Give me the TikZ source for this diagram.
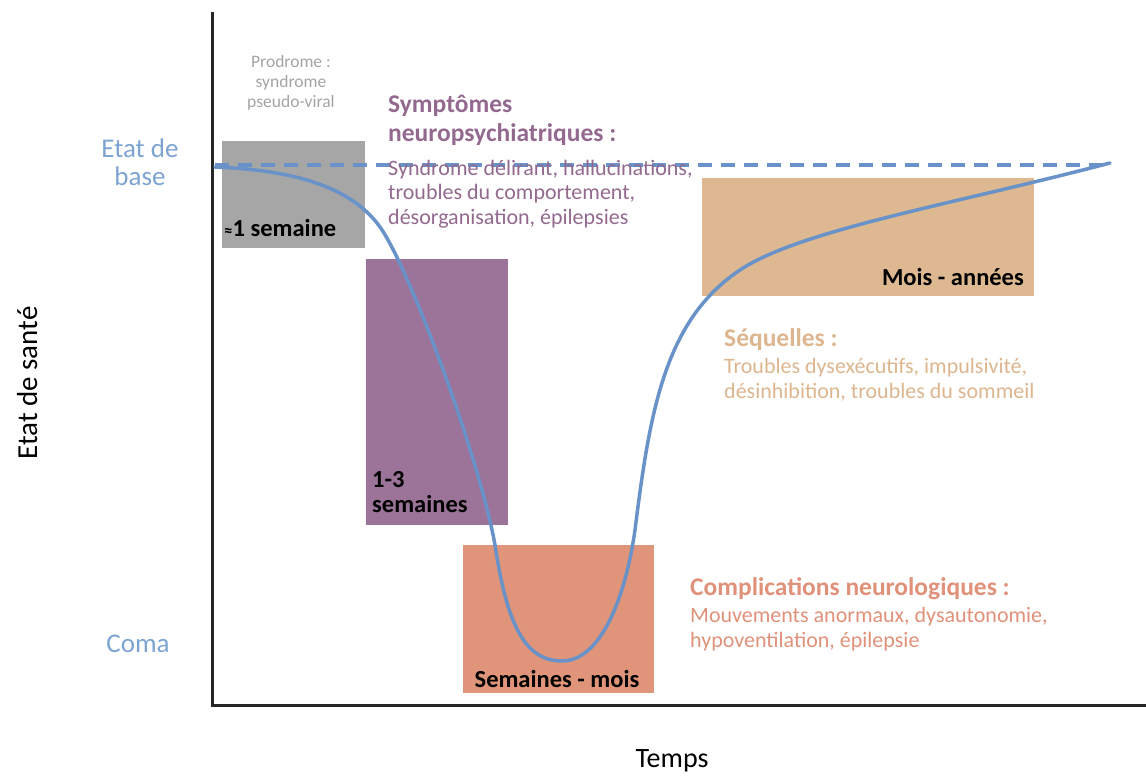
\documentclass[tikz,border=0pt]{standalone}
\usepackage{fontspec}
\setmainfont{Carlito}
\definecolor{grayb}{HTML}{A6A6A6}
\definecolor{purpb}{HTML}{9C7399}
\definecolor{salmb}{HTML}{E0957A}
\definecolor{tanb}{HTML}{DDB891}
\definecolor{curveb}{HTML}{6892C8}
\definecolor{lblue}{HTML}{7DA3D3}
\definecolor{purpt}{HTML}{93698F}
\definecolor{tant}{HTML}{DDB68F}
\definecolor{salmt}{HTML}{E0917A}
\definecolor{grayt}{HTML}{A3A3A3}
\tikzset{
  body/.style={font=\fontsize{22}{24}\selectfont,inner sep=0pt,anchor=base west},
  head/.style={font=\bfseries\fontsize{25.5}{29}\selectfont,inner sep=0pt,anchor=base west},
  dur/.style={font=\bfseries\fontsize{24.5}{24}\selectfont,inner sep=0pt,text=black},
  side/.style={text=lblue,font=\fontsize{27}{28}\selectfont,inner sep=0pt,anchor=base},
  pro/.style={text=grayt,font=\fontsize{17.5}{20}\selectfont,inner sep=0pt,anchor=base},
  axis/.style={line width=3pt,black!85},
}
\begin{document}
\begin{tikzpicture}[x=1pt,y=-1pt]
\useasboundingbox (0,0) rectangle (1146,780);
% boxes
\fill[grayb] (222,141) rectangle (365,248);
\fill[purpb] (366,259) rectangle (508,525);
\fill[salmb] (463,545) rectangle (654,693);
\fill[tanb] (702,178) rectangle (1034,296);
% axes
\coordinate (top) at (212,12);
\coordinate (orig) at (212,705);
\coordinate (xend) at (1146,705);
\draw[axis] (top) -- (orig) -- (xend);
% curve
\coordinate (c0) at (215,167);
\coordinate (c1) at (380,227);
\coordinate (c2) at (495,545);
\coordinate (c3) at (562,661);
\coordinate (c4) at (635,530);
\coordinate (c5) at (740,270);
\coordinate (c6) at (1110,163);
\draw[curveb,line width=3.5pt,line cap=round]
  (c0) .. controls (290,170) and (350,185) .. (c1)
       .. controls (410,269) and (480,460) .. (c2)
       .. controls (507,625) and (525,661) .. (c3)
       .. controls (600,661) and (625,600) .. (c4)
       .. controls (650,410) and (665,320) .. (c5)
       .. controls (800,230) and (950,205) .. (c6);
% baseline
\coordinate (b0) at (215,165);
\coordinate (b1) at (1110,165);
\draw[curveb,line width=4pt,dash pattern=on 14pt off 9pt] (b0) -- (b1);
% prodrome
\node[pro] (pro1) at (291,67) {Prodrome :};
\node[pro] (pro2) at (291,87) {syndrome};
\node[pro] (pro3) at (291,107) {pseudo-viral};
% symptomes
\node[head,text=purpt] (sym1) at (388,112) {Symptômes};
\node[head,text=purpt] (sym2) at (388,141) {neuropsychiatriques :};
\node[body,text=purpt] (symb1) at (388,175) {Syndrome délirant, hallucinations,};
\node[body,text=purpt] (symb2) at (388,199.5) {troubles du comportement,};
\node[body,text=purpt] (symb3) at (388,224) {désorganisation, épilepsies};
% durations
\node[dur,anchor=base west] (d1) at (224,236) {{\fontsize{17}{17}\selectfont ≈}1 semaine};
\node[dur,anchor=base west] (d2a) at (372,487) {1-3};
\node[dur,anchor=base west] (d2b) at (372,512) {semaines};
\node[dur,anchor=base] (d3) at (557,687) {Semaines - mois};
\node[dur,anchor=base east] (d4) at (1024,285) {Mois - années};
% sequelles
\node[head,text=tant] (seq) at (724,346) {Séquelles :};
\node[body,text=tant] (seqb1) at (724,373) {Troubles dysexécutifs, impulsivité,};
\node[body,text=tant] (seqb2) at (724,398) {désinhibition, troubles du sommeil};
% complications
\node[head,text=salmt] (comp) at (690,595) {Complications neurologiques :};
\node[body,text=salmt] (compb1) at (690,622) {Mouvements anormaux, dysautonomie,};
\node[body,text=salmt] (compb2) at (690,647) {hypoventilation, épilepsie};
% left labels
\node[side] (base1) at (140,157) {Etat de};
\node[side] (base2) at (140,185) {base};
\node[side] (coma) at (138,652) {Coma};
\node[font=\fontsize{29}{30}\selectfont,rotate=90,anchor=base,inner sep=0pt] (ylab) at (37,383) {Etat de santé};
\node[font=\fontsize{28}{30}\selectfont,anchor=base,inner sep=0pt] (xlab) at (672,767) {Temps};
\end{tikzpicture}
\end{document}
